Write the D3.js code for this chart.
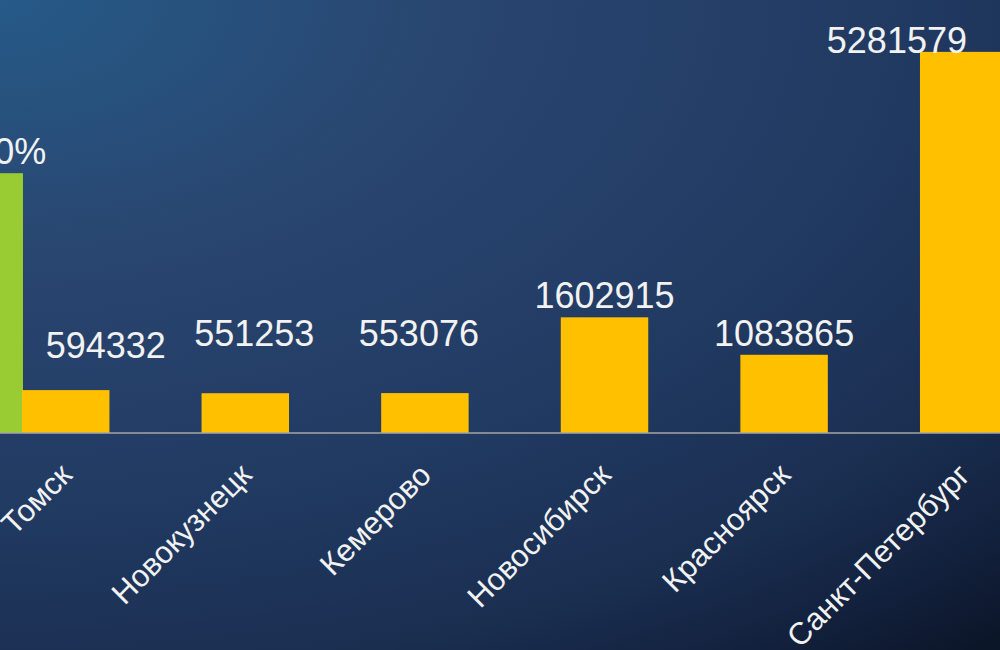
<!DOCTYPE html>
<html lang="ru">
<head>
<meta charset="utf-8">
<script src="https://cdn.jsdelivr.net/npm/d3@7/dist/d3.min.js"></script>
<style>
  html, body { margin: 0; padding: 0; background: #16284a; }
  svg { display: block; }
  text { font-family: "Liberation Sans", Arial, sans-serif; }
</style>
</head>
<body>
<svg id="chart" width="1000" height="650"></svg>
<script>
// Population of cities (people)
const categories = ["Томск", "Новокузнецк", "Кемерово", "Новосибирск", "Красноярск", "Санкт-Петербург"];
const population = [594332, 551253, 553076, 1602915, 1083865, 5281579];

// Share series (secondary axis, percent), shown for Томск only
const shareCategories = ["Томск"];
const shareValues = [0.6];

// Value axis ranges (axes themselves are hidden)
const populationDomain = [0, 6000000];
const shareDomain = [0, 1];

const W = 1000, H = 650;
const plotTop = 0, plotBottom = 433;
const svg = d3.select("#chart");

// hand-placed data label nudges (pixels)
const labelNudge = {
  "Томск": [40, -23],
  "Новокузнецк": [9, -38],
  "Кемерово": [-6, -38]
};

const ru = d3.formatLocale({ decimal: ",", thousands: "\u00a0", grouping: [3], currency: ["", " ₽"], percent: "%" });
const fmtPct = ru.format(".2%");
const fmtInt = d3.format("d");

// background gradient
const defs = svg.append("defs");
const bg = defs.append("radialGradient")
  .attr("id", "bg")
  .attr("gradientUnits", "userSpaceOnUse")
  .attr("cx", 0).attr("cy", 0).attr("r", 1500)
  .attr("gradientTransform", "scale(1,0.57)");
[[0, "#265a88"], [0.3, "#294670"], [0.6, "#213a62"], [0.8, "#1a2e50"], [0.9, "#13223f"], [1, "#0c1629"]]
  .forEach(([o, c]) => bg.append("stop").attr("offset", o).attr("stop-color", c));
svg.append("rect").attr("width", W).attr("height", H).attr("fill", "url(#bg)");

// scales
const x = d3.scaleBand()
  .domain(categories)
  .range([-24.1, 1053.5])
  .paddingInner(0.513)
  .paddingOuter(0.2565);
const y = d3.scaleLinear().domain(populationDomain).range([plotBottom, plotTop]);
const y2 = d3.scaleLinear().domain(shareDomain).range([plotBottom, plotTop]);
const bw = x.bandwidth();

const popData = categories.map((c, i) => ({ c, v: population[i] }));
const shareData = shareCategories.map((c, i) => ({ c, v: shareValues[i] }));

// share bars (green), placed just left of the city bar
svg.append("g").selectAll("rect").data(shareData).join("rect")
  .attr("x", d => x(d.c) - bw + 1)
  .attr("y", d => y2(d.v))
  .attr("width", bw)
  .attr("height", d => plotBottom - y2(d.v))
  .attr("fill", "#99cc33");

// population bars (gold)
svg.append("g").selectAll("rect").data(popData).join("rect")
  .attr("x", d => x(d.c))
  .attr("y", d => y(d.v))
  .attr("width", bw)
  .attr("height", d => plotBottom - y(d.v))
  .attr("fill", "#ffc000");

// category axis
const xAxis = d3.axisBottom(x).tickSize(0).tickPadding(0);
const gx = svg.append("g").attr("transform", `translate(0,${plotBottom})`).call(xAxis);
gx.select(".domain").remove();
gx.append("line").attr("x1", 0).attr("x2", W).attr("y1", 0).attr("y2", 0)
  .attr("stroke", "#a6a6a6").attr("stroke-width", 1.5);
gx.selectAll(".tick text")
  .attr("font-size", 31)
  .attr("fill", "#f2f2f2")
  .attr("text-anchor", "end")
  .attr("dy", 0)
  .attr("y", 0)
  .attr("transform", "translate(8,44) rotate(-45)");

// value labels
const labelGap = 9;
const valueLabels = svg.append("g").attr("font-size", 36).attr("fill", "#f2f2f2");
valueLabels.selectAll("text.pop").data(popData).join("text")
  .attr("class", "pop")
  .attr("text-anchor", "middle")
  .attr("x", d => x(d.c) + bw / 2 + (labelNudge[d.c] ? labelNudge[d.c][0] : 0))
  .attr("y", d => Math.max(y(d.v) - labelGap, 53) + (labelNudge[d.c] ? labelNudge[d.c][1] : 0))
  .text(d => fmtInt(d.v))
  .each(function () {
    // keep the label inside the chart area on the right
    const b = this.getBBox();
    const limit = 967;
    if (b.x + b.width > limit) d3.select(this).attr("x", +d3.select(this).attr("x") - (b.x + b.width - limit));
  });
valueLabels.selectAll("text.share").data(shareData).join("text")
  .attr("class", "share")
  .attr("text-anchor", "middle")
  .attr("x", d => x(d.c) - bw / 2 + 7)
  .attr("y", d => y2(d.v) - labelGap)
  .text(d => fmtPct(d.v));
</script>
</body>
</html>
